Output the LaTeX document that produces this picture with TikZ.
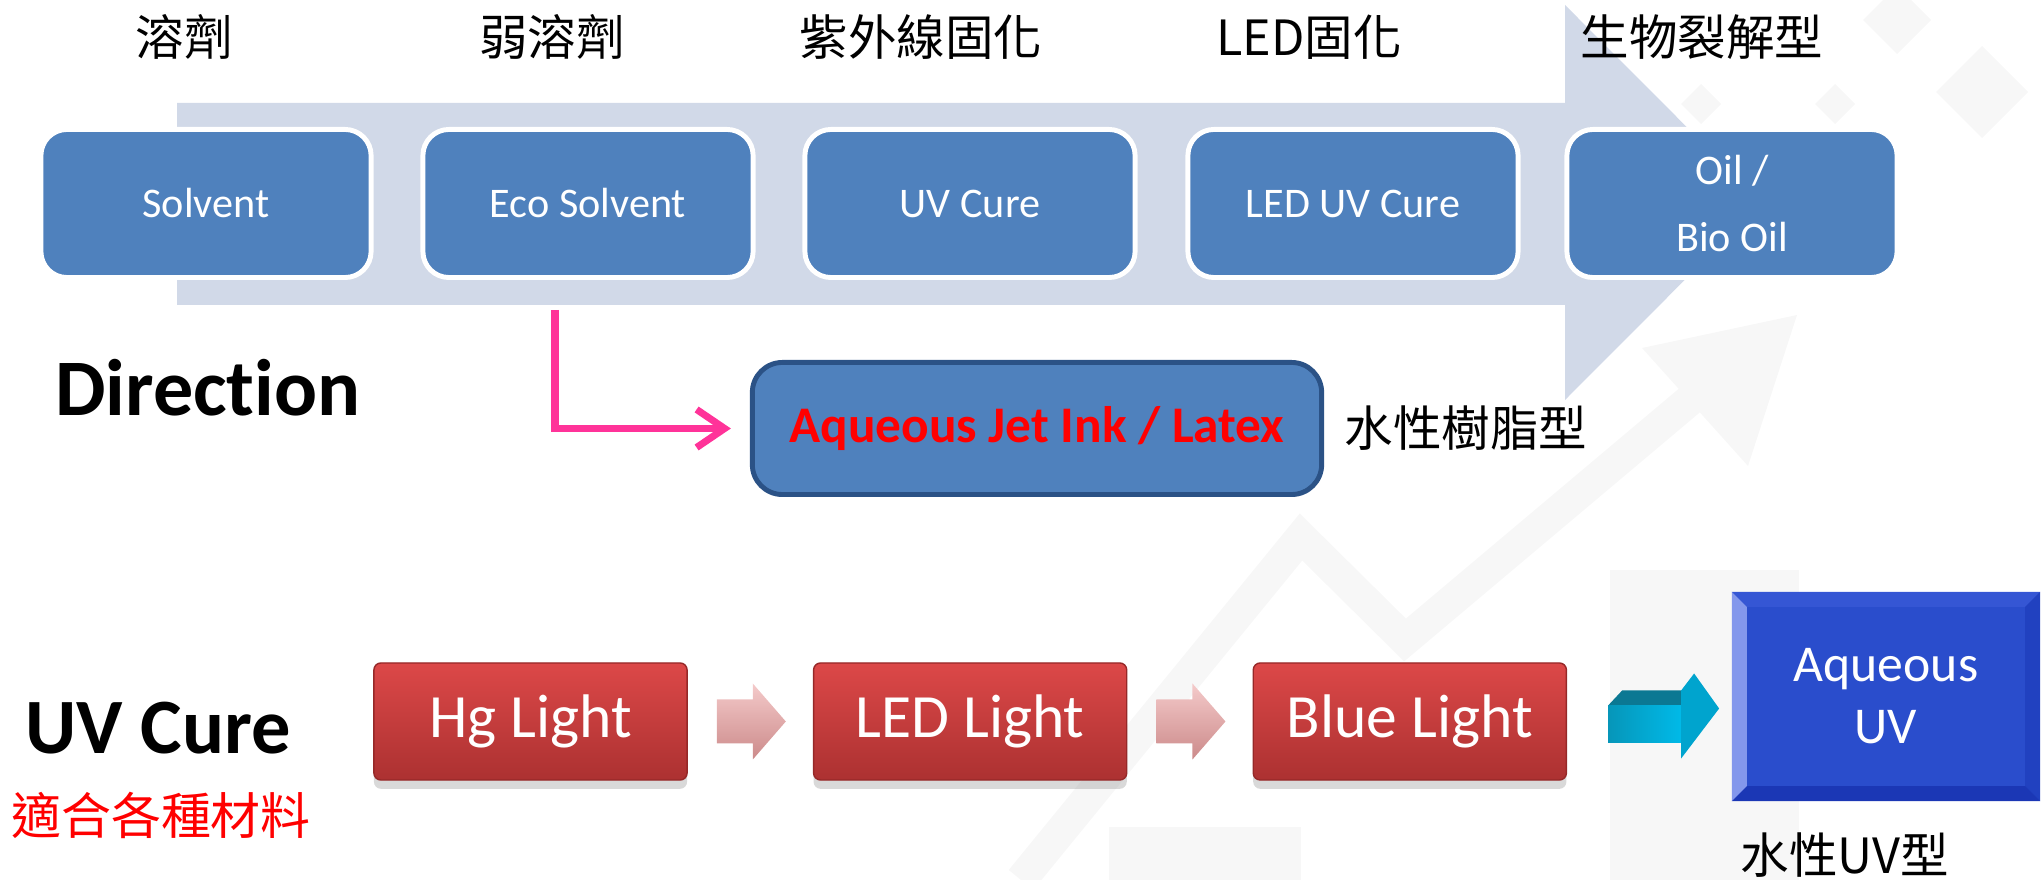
\documentclass[tikz,border=0pt]{standalone}
\usepackage{fontspec}
\setmainfont[Ligatures={NoCommon}]{Carlito}
\newfontfamily\cjk{Noto Sans CJK TC}
\usetikzlibrary{positioning,calc,arrows.meta,shadows}

\definecolor{stepblue}{HTML}{4F81BD}
\definecolor{stepedge}{HTML}{2B5286}
\definecolor{bandblue}{HTML}{D1D9E8}
\definecolor{linkpink}{HTML}{FF3399}
\definecolor{lamptop}{HTML}{DC4848}
\definecolor{lampbottom}{HTML}{AC3131}
\definecolor{lampedge}{HTML}{962828}
\definecolor{chevtop}{HTML}{F4CACA}
\definecolor{chevbottom}{HTML}{CC8A8A}
\definecolor{cyanface}{HTML}{00BAE8}
\definecolor{cyandark}{HTML}{0B7893}
\definecolor{cyanhead}{HTML}{00A4CE}
\definecolor{uvblue}{HTML}{2A4DCC}
\definecolor{uvtop}{HTML}{3556D4}
\definecolor{uvlight}{HTML}{8397EC}
\definecolor{uvdark}{HTML}{1B37B5}
\definecolor{uvright}{HTML}{2141C0}
\definecolor{wmark}{HTML}{F7F7F7}

\begin{document}
\begin{tikzpicture}[
        x=0.01cm, y=-0.01cm,
        stepbox/.style={fill=stepblue, draw=white, line width=1.4pt, rounded corners=0.26cm,
            minimum width=3.30cm, minimum height=1.48cm, align=center, text=white,
            font=\fontsize{12}{19}\selectfont},
        toptag/.style={inner sep=0pt, font=\cjk\fontsize{13.8}{16}\selectfont},
        jetbox/.style={fill=stepblue, draw=stepedge, line width=1.4pt, rounded corners=0.3cm,
            minimum width=5.69cm, minimum height=1.32cm, text=red,
            font=\bfseries\fontsize{14.6}{17}\selectfont},
        linkline/.style={draw=linkpink, line width=2pt, -{Straight Barb[length=0.28cm, width=0.38cm]}},
        lampbox/.style={top color=lamptop, bottom color=lampbottom, draw=lampedge, line width=0.4pt,
            rounded corners=0.07cm, minimum width=3.13cm, minimum height=1.17cm, text=white,
            font=\fontsize{17.5}{21}\selectfont,
            drop shadow={shadow xshift=0pt, shadow yshift=-2.5pt, opacity=0.3}},
        chevron/.style={top color=chevtop, bottom color=chevbottom},
        uvbox/.style={fill=uvblue, minimum width=3.08cm, minimum height=2.09cm, text=white,
            align=center, font=\fontsize{14.7}{17.6}\selectfont,
            path picture={
                \coordinate (bnw) at (path picture bounding box.north west);
                \coordinate (bne) at (path picture bounding box.north east);
                \coordinate (bsw) at (path picture bounding box.south west);
                \coordinate (bse) at (path picture bounding box.south east);
                \fill[uvtop] (bnw) -- (bne) -- ([shift={(-0.15cm,-0.15cm)}]bne) -- ([shift={(0.15cm,-0.15cm)}]bnw) -- cycle;
                \fill[uvright] (bne) -- (bse) -- ([shift={(-0.15cm,0.15cm)}]bse) -- ([shift={(-0.15cm,-0.15cm)}]bne) -- cycle;
                \fill[uvdark] (bsw) -- (bse) -- ([shift={(-0.15cm,0.15cm)}]bse) -- ([shift={(0.15cm,0.15cm)}]bsw) -- cycle;
                \fill[uvlight] (bnw) -- (bsw) -- ([shift={(0.15cm,0.15cm)}]bsw) -- ([shift={(0.15cm,-0.15cm)}]bnw) -- cycle;
            }},
    ]
    \useasboundingbox (0,0) rectangle (2042,880);

    % faint watermark behind everything
    \fill[wmark] (1610,570) rectangle (1799,880);
    \fill[wmark] (1109,827) rectangle (1301,880);
    \draw[wmark, line width=9pt] (1021,880) -- (1301,537) -- (1405,640) -- (1690,400);
    \fill[wmark] (1642,348) -- (1797,315) -- (1748,466) -- cycle;
    \foreach \cx/\cy/\r in {1897/20/34, 1982/92/46, 1701/104/20, 1835/104/20}
        \fill[wmark] (\cx-\r,\cy) -- (\cx,\cy-\r) -- (\cx+\r,\cy) -- (\cx,\cy+\r) -- cycle;

    % big direction arrow
    \fill[bandblue] (177,103) -- (1565,103) -- (1565,5) -- (1762,202.5) -- (1565,400) -- (1565,305) -- (177,305) -- cycle;

    % ink types along the arrow, with their chinese tags on top
    \foreach \ink/\px/\inktext/\tagx/\tag in {
            solvent/206/Solvent/184/溶劑,
            eco/588/Eco Solvent/552/弱溶劑,
            uvink/970/UV Cure/921/紫外線固化,
            ledink/1353/LED UV Cure/1309/LED固化,
            oil/1732/{Oil /\\Bio Oil}/1702/生物裂解型} {
        \node[stepbox] (\ink) at (\px,203.5) {\inktext};
        \node[toptag] (\ink-tag) at (\tagx,37) {\tag};
    }

    \node[font=\bfseries\fontsize{22.8}{27}\selectfont] (direction) at (208,388) {Direction};

    % water based branch
    \node[jetbox] (jet) at (1037,428.5) {Aqueous Jet Ink / Latex};
    \node[toptag, right=0.2cm of jet] (jet-tag) {水性樹脂型};
    \coordinate (branch) at (555,310);
    \draw[linkline] (branch) |- ([xshift=-0.19cm]jet.west);

    % uv cure row
    \node[font=\bfseries\fontsize{22.3}{27}\selectfont] (uvcure) at (158,728) {UV Cure};
    \node[font=\cjk\fontsize{14.2}{17}\selectfont, text=red] (uvcure-note) at (161,815) {適合各種材料};

    \node[lampbox] (hg) at (530.5,721.5) {Hg Light};
    \node[lampbox, right=1.25cm of hg] (ledlight) {LED Light};
    \node[lampbox, right=1.25cm of ledlight] (bluelight) {Blue Light};

    % small pink arrows between the lamps
    \foreach \from in {hg, ledlight}
        \path[chevron] ($(\from.east)+(29,-22)$) -- ++(36,0) -- ++(0,-16) -- ++(33,38) -- ++(-33,38) -- ++(0,-16) -- ++(-36,0) -- cycle;

    % cyan block arrow to the aqueous uv box
    \fill[cyandark] ($(bluelight.east)+(41,-16)$) -- ++(14,-15) -- ++(72,0) -- ++(-13,15) -- cycle;
    \path[left color=cyandark!55!cyanface, right color=cyanface] ($(bluelight.east)+(41,-16)$) rectangle ++(73,37);
    \fill[cyanhead] ($(bluelight.east)+(114,-31)$) -- ++(13,-17) -- ++(25,35) -- ++(-38,50) -- cycle;

    \node[uvbox] (aqueousuv) at (1886,696.5) {Aqueous\\UV};
    \node[toptag] (aqueousuv-tag) at (1845,855) {水性UV型};

\end{tikzpicture}
\end{document}
